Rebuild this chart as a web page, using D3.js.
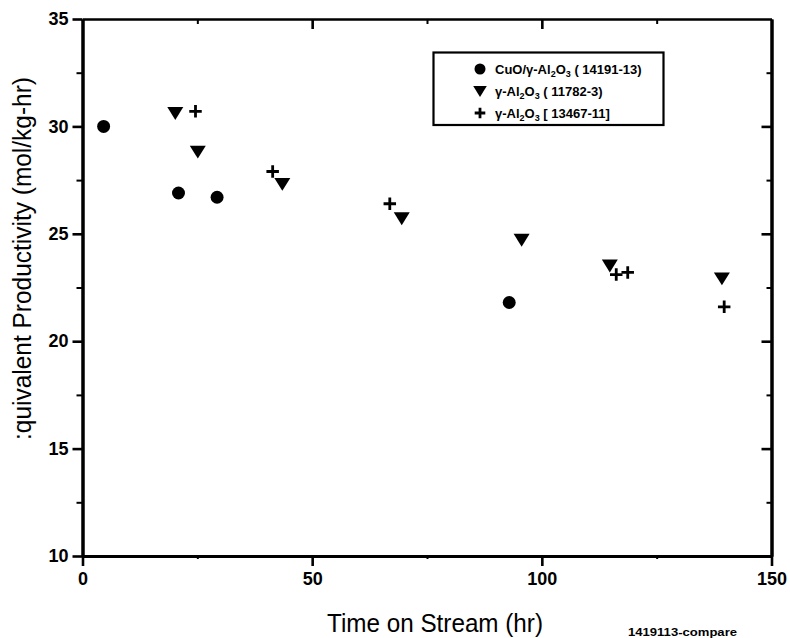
<!DOCTYPE html>
<html>
<head>
<meta charset="utf-8">
<script src="https://cdn.jsdelivr.net/npm/d3@7"></script>
<style>
  body { margin: 0; background: #fff; }
  svg { display: block; font-family: "Liberation Sans", Arial, sans-serif; }
</style>
</head>
<body>
<div id="chart"></div>
<script>
/* DATA */
const cuoTime = [4.6, 20.9, 29.3, 92.9];
const cuoProd = [30.0, 26.9, 26.7, 21.8];
const al11782Time = [20.2, 25.1, 43.5, 69.5, 95.6, 114.8, 139.2];
const al11782Prod = [30.6, 28.8, 27.3, 25.7, 24.7, 23.5, 22.9];
const al13467Time = [24.6, 41.4, 66.9, 116.2, 118.7, 139.7];
const al13467Prod = [30.7, 27.9, 26.4, 23.1, 23.2, 21.6];

const xMajor = [0, 50, 100, 150];
const xMinor = [25, 75, 125];
const yMajor = [10, 15, 20, 25, 30, 35];
const yMinor = [12.5, 17.5, 22.5, 27.5, 32.5];

const seriesNames = ["cuo", "al11782", "al13467"];
const legendLabels = [
  [["CuO/γ-Al", 0], ["2", 1], ["O", 0], ["3", 1], [" ( 14191-13)", 0]],
  [["γ-Al", 0], ["2", 1], ["O", 0], ["3", 1], [" ( 11782-3)", 0]],
  [["γ-Al", 0], ["2", 1], ["O", 0], ["3", 1], [" [ 13467-11]", 0]]
];

/* CONSTANTS */
const width = 790, height = 638;
const margin = { top: 19, right: 18.5, bottom: 82, left: 82.5 };

const svg = d3.select("#chart").append("svg")
  .attr("width", width)
  .attr("height", height);

// scales
const xScale = d3.scaleLinear().domain([0, 150]).range([margin.left, width - margin.right]);
const yScale = d3.scaleLinear().domain([10, 35]).range([height - margin.bottom, margin.top]);

const x0 = xScale.range()[0], x1 = xScale.range()[1];
const yBot = yScale.range()[0], yTop = yScale.range()[1];

// + AXES
function styleAxis(g, lw, tickW) {
  g.select(".domain").attr("stroke", "#000").attr("stroke-width", lw);
  g.selectAll(".tick line").attr("stroke", "#000").attr("stroke-width", tickW);
  g.selectAll(".tick text")
    .attr("fill", "#000")
    .attr("font-size", 18)
    .attr("font-weight", "bold")
    .attr("font-family", "'Liberation Sans', Arial, sans-serif");
}

// minor ticks first, majors on top
svg.append("g")
  .attr("transform", `translate(${x0},0)`)
  .call(d3.axisLeft(yScale).tickValues(yMinor).tickSize(6).tickFormat("").tickSizeOuter(0))
  .call(g => styleAxis(g, 3, 2));

svg.append("g")
  .attr("transform", `translate(${x0},0)`)
  .call(d3.axisLeft(yScale).tickValues(yMajor).tickSize(10).tickPadding(4).tickSizeOuter(0))
  .call(g => styleAxis(g, 3, 2.6));

svg.append("g")
  .attr("transform", `translate(0,${yBot})`)
  .call(d3.axisBottom(xScale).tickValues(xMinor).tickSize(3).tickFormat("").tickSizeOuter(0))
  .call(g => styleAxis(g, 3, 2));

svg.append("g")
  .attr("transform", `translate(0,${yBot})`)
  .call(d3.axisBottom(xScale).tickValues(xMajor).tickSize(10).tickPadding(6).tickSizeOuter(0))
  .call(g => styleAxis(g, 3, 2.6));

// top frame axis, ticks inward
svg.append("g")
  .attr("transform", `translate(0,${yTop})`)
  .call(d3.axisTop(xScale).tickValues(xMinor).tickSize(-5).tickFormat("").tickSizeOuter(0))
  .call(g => styleAxis(g, 2, 2));
svg.append("g")
  .attr("transform", `translate(0,${yTop})`)
  .call(d3.axisTop(xScale).tickValues(xMajor.slice(1, 3)).tickSize(-10).tickFormat("").tickSizeOuter(0))
  .call(g => styleAxis(g, 2, 2.6));

// right frame axis, ticks inward
svg.append("g")
  .attr("transform", `translate(${x1},0)`)
  .call(d3.axisRight(yScale).tickValues(yMinor).tickSize(-5).tickFormat("").tickSizeOuter(0))
  .call(g => styleAxis(g, 3, 2));
svg.append("g")
  .attr("transform", `translate(${x1},0)`)
  .call(d3.axisRight(yScale).tickValues(yMajor.slice(1, 5)).tickSize(-10).tickFormat("").tickSizeOuter(0))
  .call(g => styleAxis(g, 3, 2.6));

// axis titles
svg.append("text")
  .attr("x", 435).attr("y", 632)
  .attr("text-anchor", "middle")
  .attr("font-size", 26)
  .attr("textLength", 216).attr("lengthAdjust", "spacingAndGlyphs")
  .text("Time on Stream (hr)");

svg.append("text")
  .attr("transform", `translate(31,${(yBot + yTop) / 2 + 0}) rotate(-90)`)
  .attr("x", -(258.5 - (yBot + yTop) / 2))
  .attr("text-anchor", "middle")
  .attr("font-size", 26)
  .attr("textLength", 363).attr("lengthAdjust", "spacingAndGlyphs")
  .text(":quivalent Productivity (mol/kg-hr)");

svg.append("text")
  .attr("x", 628).attr("y", 636)
  .attr("font-size", 10).attr("font-weight", "bold")
  .attr("textLength", 109).attr("lengthAdjust", "spacingAndGlyphs")
  .text("1419113-compare");

/* MARKERS */
const tri = s => `M${-s},${-s * 0.8}L${s},${-s * 0.8}L0,${s * 0.8}Z`;
const plus = s => `M${-s},0H${s}M0,${-s}V${s}`;

function drawMarker(g, kind, size) {
  if (kind === "cuo") {
    g.append("circle").attr("r", size * 0.81).attr("fill", "#000");
  } else if (kind === "al11782") {
    g.append("path").attr("d", tri(size)).attr("fill", "#000");
  } else {
    g.append("path").attr("d", plus(size * 0.78))
      .attr("stroke", "#000").attr("stroke-width", 2.8).attr("fill", "none");
  }
}

const seriesData = {
  cuo: cuoTime.map((t, i) => ({ t, p: cuoProd[i] })),
  al11782: al11782Time.map((t, i) => ({ t, p: al11782Prod[i] })),
  al13467: al13467Time.map((t, i) => ({ t, p: al13467Prod[i] }))
};

seriesNames.forEach(name => {
  svg.append("g").selectAll("g")
    .data(seriesData[name])
    .join("g")
    .attr("transform", d => `translate(${xScale(d.t)},${yScale(d.p)})`)
    .each(function () { drawMarker(d3.select(this), name, 8); });
});

/* LEGEND */
const legend = svg.append("g");
legend.append("rect")
  .attr("x", 433.5).attr("y", 52.5)
  .attr("width", 230).attr("height", 72.5)
  .attr("fill", "#fff").attr("stroke", "#000").attr("stroke-width", 2.2);

const legendY = [69, 91.5, 113];
seriesNames.forEach((name, i) => {
  const row = legend.append("g").attr("transform", `translate(480,${legendY[i]})`);
  drawMarker(row, name, 6.8);
  const txt = row.append("text")
    .attr("x", 15).attr("y", 4.5)
    .attr("font-size", 13).attr("font-weight", "bold");
  legendLabels[i].forEach(([s, sub]) => {
    txt.append("tspan")
      .attr("font-size", sub ? 9 : 13)
      .attr("dy", sub ? 3 : (txt.selectAll("tspan").size() > 1 ? -3 : 0))
      .text(s);
  });
});
</script>
</body>
</html>
